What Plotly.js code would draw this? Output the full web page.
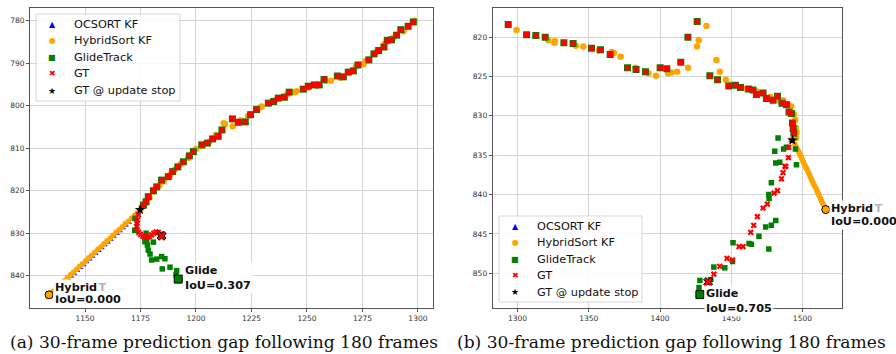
<!DOCTYPE html>
<html>
<head>
<meta charset="utf-8">
<script src="https://cdn.plot.ly/plotly-3.0.1.min.js"></script>
<style>
html,body{margin:0;padding:0;background:#fff;}
#chart{width:896px;height:354px;}
</style>
</head>
<body>
<div id="chart"></div>
<script>
// ---------- Panel (a) ----------
const aGtHistX = [1297.9,1295.6,1292.3,1290.4,1288.1,1286.2,1284.7,1282.3,1280.2,1277.9,1273.0,1270.9,1268.6,1266.4,1263.7,1257.7,1255.5,1253.3,1250.6,1248.3,1242.0,1239.8,1237.1,1235.0,1232.6,1227.3,1224.6,1222.2,1219.1,1216.4,1211.7,1210.0,1207.5,1205.1,1202.6,1198.8,1197.0,1194.3,1191.8,1189.5,1187.5,1184.5,1182.3,1180.8,1178.5,1177.5,1176.3];
const aGtHistY = [780.3,781.3,782.1,783.4,784.5,784.6,786.2,787.0,787.8,789.2,790.4,791.8,792.1,793.2,793.0,793.8,795.1,795.1,795.4,796.1,796.8,798.0,798.2,799.0,799.4,800.9,802.1,803.8,803.9,803.1,805.7,807.2,807.8,808.8,809.2,810.8,811.8,813.2,814.4,815.5,816.7,817.5,819.1,820.0,821.4,822.6,823.4];
const aHybHistX = [1298.5,1293.5,1289.0,1285.0,1281.0,1276.5,1275.5,1272.0,1269.5,1265.0,1260.8,1258.5,1254.5,1250.0,1245.3,1244.5,1241.0,1236.0,1233.5,1229.6,1228.5,1223.5,1220.0,1216.5,1213.1,1212.5,1209.0,1206.0,1203.0,1200.0,1196.5,1193.0,1190.5,1188.5,1185.5,1183.5,1181.0,1179.0,1177.0,1175.5];
const aHybHistY = [780.0,782.5,784.0,785.5,787.5,789.5,790.2,790.8,792.0,793.4,794.1,794.2,795.3,795.9,796.6,796.8,797.4,798.6,799.3,800.2,800.5,802.4,803.5,804.8,804.3,804.1,806.9,808.5,809.5,810.2,812.3,813.8,815.0,816.2,817.8,818.8,820.2,821.6,823.0,824.0];
const aHybPredX = [1173.6,1172.3,1170.9,1169.5,1168.1,1166.8,1165.4,1164.0,1162.6,1161.3,1159.9,1158.5,1157.2,1155.8,1154.4,1153.0,1151.7,1150.3,1148.9,1147.5,1146.2,1144.8,1143.4,1142.1,1140.7,1139.3,1137.9,1136.6,1135.2,1133.8];
const aHybPredY = [825.2,825.8,826.5,827.2,827.8,828.5,829.2,829.8,830.5,831.2,831.8,832.5,833.2,833.8,834.5,835.2,835.8,836.5,837.2,837.8,838.5,839.2,839.8,840.5,841.2,841.8,842.5,843.2,843.8,844.5];
const aOcPredX = [1174.0,1172.7,1171.3,1169.9,1168.5,1167.2,1165.8,1164.4,1163.0,1161.7,1160.3,1158.9,1157.6,1156.2,1154.8,1153.4,1152.1,1150.7,1149.3,1147.9,1146.6,1145.2,1143.8,1142.5,1141.1,1139.7,1138.3,1137.0,1135.6,1134.2];
const aOcPredY = [825.5,826.1,826.8,827.5,828.1,828.8,829.5,830.1,830.8,831.5,832.1,832.8,833.5,834.1,834.8,835.5,836.1,836.8,837.5,838.1,838.8,839.5,840.1,840.8,841.5,842.1,842.8,843.5,844.1,844.8];
const aGtPredX = [1174.0,1173.6,1173.4,1173.3,1173.5,1174.2,1175.0,1176.0,1177.0,1178.0,1179.0,1180.0,1181.0,1182.0,1183.0,1184.0];
const aGtPredY = [825.7,826.9,827.7,828.4,829.2,829.8,830.3,830.7,830.9,831.0,830.8,830.4,830.0,829.7,829.8,830.2];
const aGlidePredX = [1172.5,1172.4,1177.0,1177.5,1177.8,1178.1,1178.5,1179.3,1180.0,1180.8,1182.3,1184.5,1186.0,1184.8,1188.3,1191.3,1191.0];
const aGlidePredY = [826.5,829.3,832.0,830.0,831.6,832.8,834.0,834.9,836.3,832.1,836.1,835.5,836.0,838.4,838.0,838.8,839.8];
const aStop = [1174.8, 824.5];
const aGtEnd = [1184.5, 830.6];
const aGlideEnd = [1192.0, 840.8];
const aHybEnd = [1133.8, 844.5];

// ---------- Panel (b) ----------
const bGtHistX = [1293.4,1306.3,1312.8,1319.4,1332.5,1339.0,1351.9,1358.2,1365.0,1377.2,1383.2,1389.8,1400.1,1404.8,1414.6,1419.6,1426.1,1435.0,1440.4,1448.3,1453.0,1456.5,1462.3,1465.3,1467.7,1472.4,1474.7,1479.4,1482.5,1485.7,1488.8,1490.6,1492.3,1493.0,1493.5,1494.0];
const bGtHistY = [818.4,819.7,819.8,820.0,820.7,820.8,821.4,821.6,822.2,823.9,824.1,824.4,823.9,824.0,823.2,820.0,818.0,824.9,825.4,826.2,826.1,826.4,826.6,826.7,827.3,827.1,827.8,828.0,827.5,828.4,828.6,829.5,829.7,830.9,831.6,832.2];
const bHybHistX = [1299.3,1321.5,1326.2,1325.8,1340.9,1346.1,1357.1,1366.0,1367.6,1372.3,1382.8,1391.9,1397.1,1405.7,1408.0,1412.0,1419.7,1426.0,1427.2,1432.6,1439.6,1442.0,1446.2,1449.5,1460.7,1468.0,1477.5,1484.1,1486.5,1489.5,1492.3,1494.0,1495.0,1495.4,1495.9,1495.5];
const bHybHistY = [819.1,820.4,820.5,820.7,821.1,821.2,821.7,821.9,822.0,822.5,823.9,824.6,824.9,824.6,824.5,824.4,823.9,821.2,820.4,818.6,822.9,824.4,825.4,826.0,826.6,826.9,827.6,828.1,828.0,828.5,828.8,829.8,830.5,831.5,832.1,832.8];
const bHybPredX = [1494.7,1495.5,1496.2,1497.0,1497.7,1498.5,1499.2,1500.0,1500.7,1501.5,1502.2,1503.0,1503.7,1504.5,1505.2,1505.9,1506.7,1507.4,1508.2,1508.9,1509.7,1510.4,1511.2,1511.9,1512.7,1513.4,1514.2,1514.9,1515.7,1516.4];
const bHybPredY = [833.6,833.9,834.2,834.4,834.7,835.0,835.3,835.6,835.9,836.2,836.5,836.7,837.0,837.3,837.6,837.9,838.2,838.5,838.8,839.0,839.3,839.6,839.9,840.2,840.5,840.8,841.1,841.3,841.6,841.9];
const bOcPredX = [1495.1,1495.9,1496.6,1497.4,1498.1,1498.9,1499.6,1500.4,1501.1,1501.9,1502.6,1503.4,1504.1,1504.9,1505.6,1506.3,1507.1,1507.8,1508.6,1509.3,1510.1,1510.8,1511.6,1512.3,1513.1,1513.8,1514.6,1515.3,1516.1,1516.8];
const bOcPredY = [833.6,833.9,834.2,834.4,834.7,835.0,835.3,835.6,835.9,836.2,836.5,836.7,837.0,837.3,837.6,837.9,838.2,838.5,838.8,839.0,839.3,839.6,839.9,840.2,840.5,840.8,841.1,841.3,841.6,841.9];
const bGtPredX = [1492.3,1490.4,1490.2,1488.3,1487.7,1486.4,1485.3,1482.5,1480.1,1475.4,1472.4,1468.4,1465.8,1463.7,1458.3,1455.5,1450.9,1447.1,1442.0,1437.8];
const bGtPredY = [833.1,834.0,835.3,836.4,836.4,837.2,838.0,839.5,839.8,841.2,841.7,842.8,843.9,844.8,846.6,846.6,848.3,848.1,849.1,850.1];
const bGlidePredX = [1482.9,1488.8,1486.8,1495.1,1480.6,1481.3,1484.1,1495.8,1478.2,1476.4,1476.6,1481.3,1478.2,1474.2,1469.5,1464.2,1462.5,1476.4,1451.3,1450.9,1445.5,1437.8,1435.6,1428.0,1427.4];
const bGlidePredY = [832.8,834.0,834.2,834.2,834.5,836.0,835.9,836.2,838.5,840.0,840.5,843.3,843.9,844.1,845.3,846.3,846.2,846.9,846.1,848.5,849.3,849.2,850.8,850.9,851.8];
const bStop = [1493.0, 833.1];
const bGtEnd = [1433.8, 851.1];
const bGlideEnd = [1428.0, 852.7];
const bHybEnd = [1516.4, 841.9];

const legendNames = ["OCSORT KF","HybridSort KF","GlideTrack","GT","GT @ update stop"];
const legendGlyphs = ["\u25B2","\u25CF","\u25A0","\u2716","\u2605"];
const captions = ["(a) 30-frame prediction gap following 180 frames","(b) 30-frame prediction gap following 180 frames"];

const BLUE='#0000ff', ORANGE='#ffa500', GREEN='#008000', RED='#ff0000';
const legendColors = [BLUE, ORANGE, GREEN, RED, '#000'];

function panel(xa, ya, d){
  const t = [];
  const base = {type:'scatter', mode:'markers', xaxis:xa, yaxis:ya, hoverinfo:'skip', showlegend:false};
  t.push(Object.assign({}, base, {x:d.gtHX, y:d.gtHY, marker:{symbol:'triangle-up', color:BLUE, size:6}}));
  t.push(Object.assign({}, base, {x:d.ocPX, y:d.ocPY, marker:{symbol:'triangle-up', color:BLUE, size:5}, name:legendNames[0]}));
  t.push(Object.assign({}, base, {x:d.hyHX, y:d.hyHY, marker:{symbol:'circle', color:ORANGE, size:6.5}}));
  t.push(Object.assign({}, base, {x:d.hyPX, y:d.hyPY, marker:{symbol:'circle', color:ORANGE, size:5.5}, name:legendNames[1]}));
  t.push(Object.assign({}, base, {x:d.gtHX, y:d.gtHY, marker:{symbol:'square', color:GREEN, size:7}}));
  t.push(Object.assign({}, base, {x:d.glPX, y:d.glPY, marker:{symbol:'square', color:GREEN, size:5.5}, name:legendNames[2]}));
  t.push(Object.assign({}, base, {x:d.gtHX, y:d.gtHY, marker:{symbol:'square', color:RED, size:5.5}}));
  t.push(Object.assign({}, base, {x:d.gtPX, y:d.gtPY, marker:{symbol:'x', color:RED, size:5.5}, name:legendNames[3]}));
  t.push(Object.assign({}, base, {x:[d.hyEnd[0]], y:[d.hyEnd[1]], marker:{symbol:'circle', color:ORANGE, size:8, line:{color:'#000', width:1}}}));
  t.push(Object.assign({}, base, {x:[d.glEnd[0]], y:[d.glEnd[1]], marker:{symbol:'square', color:GREEN, size:8, line:{color:'#000', width:1}}}));
  t.push(Object.assign({}, base, {x:[d.gtEnd[0]], y:[d.gtEnd[1]], marker:{symbol:'x', color:RED, size:8, line:{color:'#000', width:1}}}));
  t.push(Object.assign({}, base, {x:[d.stop[0]], y:[d.stop[1]], marker:{symbol:'star', color:'#000', size:8}, name:legendNames[4]}));
  return t;
}

const data = [].concat(
  panel('x','y',{gtHX:aGtHistX,gtHY:aGtHistY,hyHX:aHybHistX,hyHY:aHybHistY,hyPX:aHybPredX,hyPY:aHybPredY,ocPX:aOcPredX,ocPY:aOcPredY,gtPX:aGtPredX,gtPY:aGtPredY,glPX:aGlidePredX,glPY:aGlidePredY,stop:aStop,gtEnd:aGtEnd,glEnd:aGlideEnd,hyEnd:aHybEnd}),
  panel('x2','y2',{gtHX:bGtHistX,gtHY:bGtHistY,hyHX:bHybHistX,hyHY:bHybHistY,hyPX:bHybPredX,hyPY:bHybPredY,ocPX:bOcPredX,ocPY:bOcPredY,gtPX:bGtPredX,gtPY:bGtPredY,glPX:bGlidePredX,glPY:bGlidePredY,stop:bStop,gtEnd:bGtEnd,glEnd:bGlideEnd,hyEnd:bHybEnd})
);

const axBase = {showgrid:true, gridcolor:'#d4d4d4', gridwidth:1, zeroline:false, showline:true, mirror:true, linecolor:'#555', linewidth:1, ticks:'outside', ticklen:3, tickcolor:'#555', tickfont:{size:7.5, color:'#333'}};

const LAB = 11.2;
function lab(xa, ya, x, y, text, bg, color){
  return {xref:xa, yref:ya, x:x, y:y, text:'<b>'+text+'</b>', showarrow:false, xanchor:'left', yanchor:'middle',
    font:{family:'DejaVu Sans', size:LAB, color:color||'#111'}, bgcolor:bg||'rgba(0,0,0,0)', borderpad:1};
}

const annotations = [
  // panel a
  lab('x','y',1135.6,842.7,'OCSORT',null,'#b4b4b4'),
  lab('x','y',1135.6,845.6,'IoU=0.000','rgba(255,255,255,0.95)'),
  lab('x','y',1135.6,842.7,'Hybrid','rgba(255,255,255,0.95)'),
  {xref:'x', yref:'y', x:1194.0, y:840.6, text:'<b>Glide</b><br><b>IoU=0.307</b>', showarrow:false, xanchor:'left', yanchor:'middle', align:'left', font:{family:'DejaVu Sans', size:LAB, color:'#111'}, bgcolor:'rgba(255,255,255,0.9)', borderpad:1},
  // panel b
  lab('x2','y2',1519.0,841.7,'OCSORT',null,'#b4b4b4'),
  lab('x2','y2',1519.0,843.4,'IoU=0.000','rgba(255,255,255,0.95)'),
  lab('x2','y2',1519.0,841.7,'Hybrid','rgba(255,255,255,0.95)'),
  {xref:'x2', yref:'y2', x:1431.1, y:853.45, text:'<b>Glide</b><br><b>IoU=0.705</b>', showarrow:false, xanchor:'left', yanchor:'middle', align:'left', font:{family:'DejaVu Sans', size:LAB, color:'#111'}, bgcolor:'rgba(255,255,255,0.9)', borderpad:1},
  // captions
  {xref:'paper', yref:'paper', x:0.2395, y:-0.113, text:captions[0], showarrow:false, xanchor:'center', yanchor:'middle', font:{family:'DejaVu Serif', size:17.1, color:'#111'}},
  {xref:'paper', yref:'paper', x:0.7906, y:-0.113, text:captions[1], showarrow:false, xanchor:'center', yanchor:'middle', font:{family:'DejaVu Serif', size:17.1, color:'#111'}}
];

// custom legends (paper coords): box + glyph + label rows
const shapes = [];
function addLegend(x0, x1, y0, y1, glyphX, textX, rowsY){
  shapes.push({type:'rect', xref:'paper', yref:'paper', x0:x0, x1:x1, y0:y0, y1:y1, fillcolor:'rgba(255,255,255,0.85)', line:{color:'#d6d6d6', width:1}, layer:'above'});
  for (let i=0;i<legendNames.length;i++){
    annotations.push({xref:'paper', yref:'paper', x:glyphX, y:rowsY[i], text:legendGlyphs[i], showarrow:false, xanchor:'center', yanchor:'middle', font:{family:'DejaVu Sans', size:(i===4?9:8), color:legendColors[i]}});
    annotations.push({xref:'paper', yref:'paper', x:textX, y:rowsY[i], text:legendNames[i], showarrow:false, xanchor:'left', yanchor:'middle', font:{family:'DejaVu Sans', size:11.3, color:'#111'}});
  }
}
addLegend(0.0074, 0.1847, 0.69, 0.98, 0.0271, 0.0515, [0.945,0.89,0.835,0.78,0.725]);
addLegend(0.5776, 0.7537, 0.02, 0.3067, 0.5973, 0.6220, [0.2733,0.2183,0.1633,0.1083,0.0533]);

const layout = {
  width:896, height:354,
  margin:{l:30, r:54, t:8, b:46},
  paper_bgcolor:'#fff', plot_bgcolor:'#fff',
  font:{family:'DejaVu Sans'},
  xaxis:Object.assign({}, axBase, {domain:[0,0.4963], range:[1125.2,1306.8], tickvals:[1150,1175,1200,1225,1250,1275,1300], anchor:'y'}),
  yaxis:Object.assign({}, axBase, {domain:[0,1], range:[847.6,777.0], tickvals:[780,790,800,810,820,830,840], anchor:'x'}),
  xaxis2:Object.assign({}, axBase, {domain:[0.5698,1], range:[1282.5,1527.8], tickvals:[1300,1350,1400,1450,1500], anchor:'y2'}),
  yaxis2:Object.assign({}, axBase, {domain:[0,1], range:[854.4,816.3], tickvals:[820,825,830,835,840,845,850], anchor:'x2'}),
  annotations:annotations,
  shapes:shapes,
  showlegend:false
};

Plotly.newPlot('chart', data, layout, {displayModeBar:false, staticPlot:true});
</script>
</body>
</html>
